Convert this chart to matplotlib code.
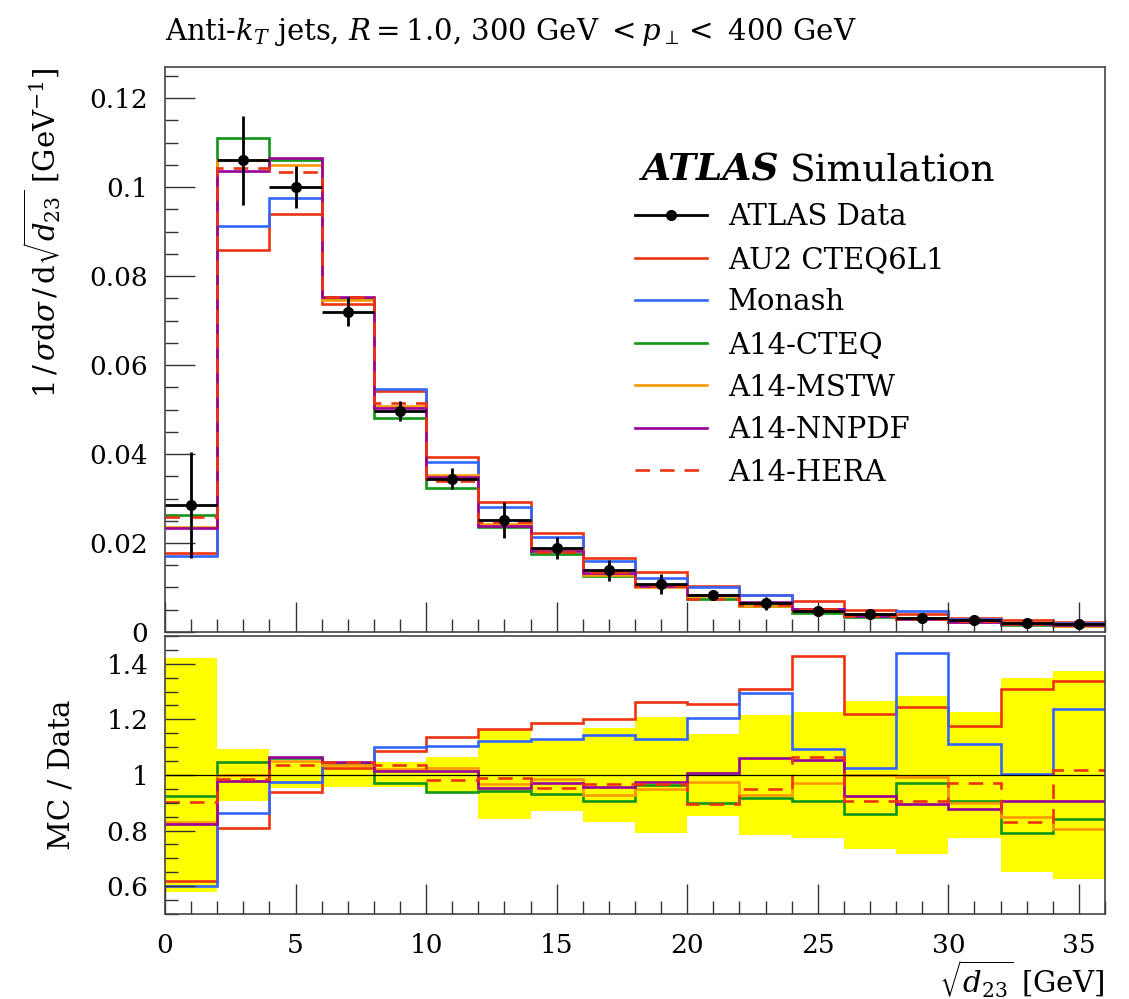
import numpy as np
import matplotlib
matplotlib.use("Agg")
import matplotlib.pyplot as plt
from matplotlib.lines import Line2D
from matplotlib.ticker import MultipleLocator, FormatStrFormatter

plt.rcParams['font.family'] = ['DejaVu Serif']
plt.rcParams['mathtext.fontset'] = 'dejavuserif'

# bin edges of sqrt(d23) in GeV
edges = np.arange(0, 37, 2)

# normalised ATLAS data and relative uncertainty
data = [0.0285, 0.106, 0.100, 0.072, 0.0497, 0.0345, 0.0251, 0.0188, 0.0139,
        0.0107, 0.0083, 0.0064, 0.0048, 0.0040, 0.0032, 0.0026, 0.0021, 0.0017]
data_relerr = [0.42, 0.095, 0.048, 0.045, 0.045, 0.066, 0.16, 0.13, 0.17,
               0.21, 0.147, 0.216, 0.226, 0.265, 0.285, 0.228, 0.35, 0.375]

# MC / data ratios per tune
ratio_au2 = [0.62, 0.81, 0.94, 1.025, 1.088, 1.138, 1.165, 1.186, 1.202,
             1.263, 1.255, 1.309, 1.427, 1.218, 1.244, 1.176, 1.309, 1.339]
ratio_monash = [0.60, 0.862, 0.975, 1.04, 1.100, 1.105, 1.122, 1.130, 1.145,
                1.131, 1.205, 1.294, 1.094, 1.024, 1.439, 1.111, 1.004, 1.239]
ratio_cteq = [0.926, 1.047, 1.06, 1.04, 0.970, 0.937, 0.944, 0.930, 0.907,
              0.965, 0.899, 0.917, 0.908, 0.858, 0.970, 0.907, 0.790, 0.841]
ratio_mstw = [0.83, 1.001, 1.050, 1.035, 1.023, 1.025, 0.969, 0.987, 0.929,
              0.950, 0.976, 0.929, 0.972, 1.000, 0.991, 0.900, 0.850, 0.805]
ratio_nnpdf = [0.824, 0.977, 1.065, 1.045, 1.013, 1.013, 0.953, 0.970, 0.958,
               0.975, 1.006, 1.060, 1.053, 0.924, 0.896, 0.879, 0.906, 0.905]
ratio_hera = [0.903, 0.984, 1.035, 1.045, 1.037, 0.981, 0.989, 0.953, 0.967,
              0.969, 0.897, 0.948, 1.065, 0.907, 0.907, 0.971, 0.830, 1.017]

tunes = [
    ("AU2 CTEQ6L1", ratio_au2, "#EE3311", "-"),
    ("Monash", ratio_monash, "#3366FF", "-"),
    ("A14-CTEQ", ratio_cteq, "#109618", "-"),
    ("A14-MSTW", ratio_mstw, "#FF9900", "-"),
    ("A14-NNPDF", ratio_nnpdf, "#990099", "-"),
    ("A14-HERA", ratio_hera, "#EE3311", (0, (5.5, 3.8))),
]

data = np.array(data)
rel = np.array(data_relerr)
centers = 0.5 * (edges[:-1] + edges[1:])
halfw = 0.5 * np.diff(edges)

fig = plt.figure(figsize=(11.29, 9.99), dpi=100)
ax = fig.add_axes([0.1461, 0.3674, 0.8327, 0.5655])
axr = fig.add_axes([0.1461, 0.0851, 0.8327, 0.2783])

lw = 1.9
for name, r, col, ls in tunes:
    mc = data * np.array(r)
    ax.stairs(mc, edges, baseline=None, color=col, lw=lw, linestyle=ls)

ax.errorbar(centers, data, xerr=halfw, yerr=rel * data, fmt='o', color='black',
            ms=7, elinewidth=2, capsize=0, zorder=5)

# ratio panel
axr.stairs(1 + rel, edges, baseline=1 - rel, fill=True, color='#FFFF00', lw=0)
axr.axhline(1.0, color='black', lw=0.9)
for name, r, col, ls in tunes:
    axr.stairs(r, edges, baseline=None, color=col, lw=lw, linestyle=ls)

ax.set_xlim(0, 36)
ax.set_ylim(0, 0.127)
axr.set_xlim(0, 36)
axr.set_ylim(0.5, 1.5)

for a in (ax, axr):
    a.xaxis.set_major_locator(MultipleLocator(5))
    a.xaxis.set_minor_locator(MultipleLocator(1))
    a.tick_params(which='both', direction='in', top=False, right=False,
                  colors='#333333', labelcolor='black', labelsize=19)
    a.tick_params(which='major', length=21.5, width=1.0)
    a.tick_params(which='minor', length=9.4, width=1.0)
    a.tick_params(axis='y', pad=12)
    a.tick_params(axis='x', pad=14)
    for s in a.spines.values():
        s.set_color('#444444')
        s.set_linewidth(1.2)

ax.yaxis.set_major_locator(MultipleLocator(0.02))
ax.yaxis.set_minor_locator(MultipleLocator(0.005))
ax.yaxis.set_major_formatter(FormatStrFormatter('%g'))
ax.tick_params(axis='x', labelbottom=False)
axr.yaxis.set_major_locator(MultipleLocator(0.2))
axr.yaxis.set_minor_locator(MultipleLocator(0.05))
axr.yaxis.set_major_formatter(FormatStrFormatter('%g'))

ax.set_ylabel(r'$1\,/\,\sigma\mathrm{d}\sigma\,/\,\mathrm{d}\sqrt{d_{23}}$ [GeV$^{-1}$]',
              fontsize=21, loc='top')
ax.yaxis.set_label_coords(-0.108, 1.0)
axr.set_ylabel('MC / Data', fontsize=21)
axr.yaxis.set_label_coords(-0.095, 0.5)
axr.set_xlabel(r'$\sqrt{d_{23}}$ [GeV]', fontsize=21, loc='right')
axr.xaxis.set_label_coords(1.0, -0.16)

fig.text(0.146, 0.968, r'Anti-$k_T$ jets, $R = 1.0$, 300 GeV $< p_\perp <$ 400 GeV',
         fontsize=21, ha='left', va='center')

# legend with experiment label above it
t1 = ax.text(0.5075, 0.785, 'ATLAS', transform=ax.transAxes, fontsize=27,
             fontweight='bold', fontstyle='italic', va='bottom', ha='left')
ax.annotate('Simulation', xy=(1, 0), xycoords=t1, xytext=(7, 0),
            textcoords='offset points', fontsize=27, va='bottom', ha='left')

handles = [Line2D([], [], color='black', lw=2, marker='o', ms=7)]
labels = ['ATLAS Data']
for name, r, col, ls in tunes:
    handles.append(Line2D([], [], color=col, lw=lw, linestyle=ls))
    labels.append(name)
ax.legend(handles, labels, loc='upper left', bbox_to_anchor=(0.4995, 0.759),
          frameon=False, fontsize=21, numpoints=1, handlelength=2.5,
          handletextpad=0.7, labelspacing=0.5, borderpad=0, borderaxespad=0)

fig.savefig('out.png', dpi=100)
